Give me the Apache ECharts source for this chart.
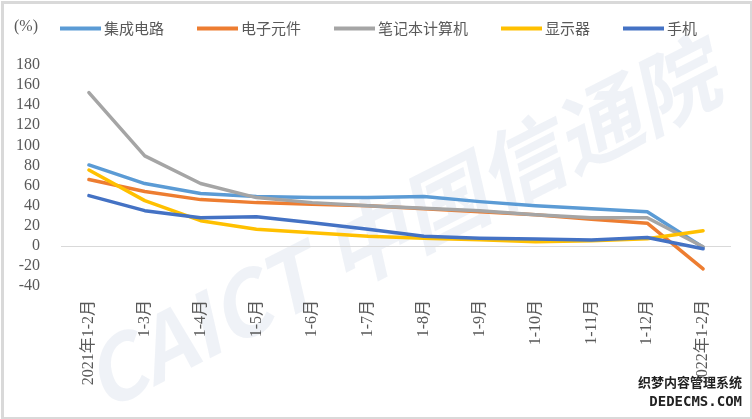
<!DOCTYPE html>
<html>
<head>
<meta charset="utf-8">
<script src="https://cdn.jsdelivr.net/npm/echarts@6/dist/echarts.min.js"></script>
<style>
html,body{margin:0;padding:0;background:#fff;}
#main{width:752px;height:419px;}
</style>
</head>
<body>
<div id="main"></div>
<script>
const categories = ['2021年1-2月','1-3月','1-4月','1-5月','1-6月','1-7月','1-8月','1-9月','1-10月','1-11月','1-12月','2022年1-2月'];
const seriesNames = ['集成电路','电子元件','笔记本计算机','显示器','手机'];
const icValues      = [80.5, 62, 52, 49, 48, 48, 49, 44, 40, 37, 34, -1.5];
const componentVals = [66, 54, 46, 43, 41.5, 40, 37, 34, 31, 26.5, 22.5, -23];
const laptopValues  = [152.5, 89.5, 62, 48, 43, 40, 37.5, 35, 31, 28, 28, -1];
const displayValues = [75.5, 45, 25, 16.5, 13, 9.5, 7.5, 6, 4, 5, 7, 15];
const phoneValues   = [50, 35, 28, 29, 23, 16.5, 9.5, 7.5, 6.7, 5.7, 8.3, -3];
const yTicks = {min: -40, max: 180, interval: 20};

const colors = ['#5B9BD5','#ED7D31','#A5A5A5','#FFC000','#4472C4'];
const allData = [icValues, componentVals, laptopValues, displayValues, phoneValues];

const chart = echarts.init(document.getElementById('main'));
const series = allData.map((d, i) => {
  const s = {
    name: seriesNames[i],
    type: 'line',
    data: d,
    symbol: 'none',
    smooth: false,
    lineStyle: {width: 3.5, color: colors[i], cap: 'round', join: 'round'},
    itemStyle: {color: colors[i]},
    z: 3 + i
  };
  if (i === 0) {
    s.markLine = {
      silent: true,
      symbol: 'none',
      label: {show: false},
      lineStyle: {color: '#d9d9d9', width: 1, type: 'solid'},
      data: [{yAxis: 0}],
      z: 1
    };
  }
  return s;
});

chart.setOption({
  backgroundColor: '#fff',
  animation: false,
  color: colors,
  graphic: [
    {type: 'rect', left: 0, top: 0, z: 100, silent: true,
     shape: {x: 1.5, y: 1.5, width: 749, height: 416},
     style: {fill: 'none', stroke: '#d9d9d9', lineWidth: 3}},
    {type: 'text', z: 0, silent: true, x: 400, y: 225, rotation: 0.47,
     style: {text: 'CAICT 中国信通院', fill: 'rgba(190,205,225,0.25)',
             font: 'italic bold 86px "Noto Sans CJK SC", sans-serif', align: 'center', verticalAlign: 'middle'}},
    {type: 'text', left: 14, top: 19, silent: true,
     style: {text: '(%)', fill: '#595959', font: '16px "Liberation Serif", serif'}},
    {type: 'text', right: 10, bottom: 30, silent: true,
     style: {text: '织梦内容管理系统', fill: '#222', font: 'bold 13px "Noto Sans CJK SC", sans-serif'}},
    {type: 'text', right: 10, bottom: 10, silent: true,
     style: {text: 'DEDECMS.COM', fill: '#222', font: 'bold 14px "DejaVu Sans Mono", monospace'}}
  ],
  legend: {
    left: 55, top: 16,
    icon: 'rect',
    itemWidth: 41, itemHeight: 4,
    itemGap: 33,
    textStyle: {color: '#595959', fontSize: 15, fontFamily: '"Noto Sans CJK SC", sans-serif', padding: [0,0,0,-2]},
    data: seriesNames
  },
  grid: {left: 61, right: 21, top: 65, bottom: 133, containLabel: false},
  xAxis: {
    type: 'category',
    data: categories,
    boundaryGap: true,
    axisLine: {show: false, onZero: false},
    axisTick: {show: false},
    axisLabel: {rotate: 90, color: '#595959', fontSize: 16, margin: 14,
      fontFamily: '"Liberation Serif", "Noto Sans CJK SC", serif', interval: 0},
    splitLine: {show: false}
  },
  yAxis: {
    type: 'value',
    min: yTicks.min, max: yTicks.max, interval: yTicks.interval,
    axisLine: {show: false},
    axisTick: {show: false},
    splitLine: {show: false},
    axisLabel: {color: '#595959', fontSize: 16, margin: 21, fontFamily: '"Liberation Serif", serif',
      showMinLabel: true, showMaxLabel: true}
  },
  series: series
});
</script>
</body>
</html>
